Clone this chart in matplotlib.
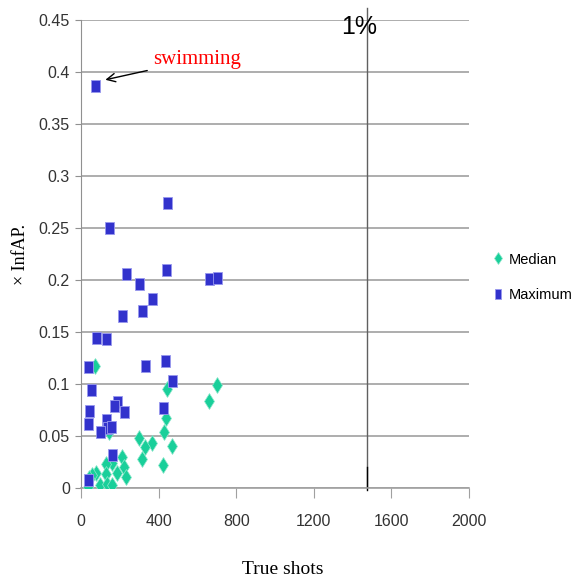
import numpy as np
import matplotlib.pyplot as plt
from matplotlib.path import Path

# Maximum InfAP per event (blue squares)
max_x = [72, 144, 445, 230, 438, 301, 660, 701, 364, 314, 211, 77, 127,
         38, 328, 433, 471, 52, 43, 187, 168, 223, 424, 38, 127, 137, 156,
         100, 161, 38]
max_y = [0.387, 0.250, 0.274, 0.206, 0.210, 0.196, 0.201, 0.202, 0.182,
         0.170, 0.165, 0.144, 0.143, 0.116, 0.117, 0.122, 0.103, 0.094,
         0.074, 0.083, 0.079, 0.073, 0.077, 0.0615, 0.065, 0.058, 0.059,
         0.0535, 0.032, 0.0077]

# Median InfAP per event (green diamonds)
med_x = [72, 445, 700, 660, 438, 430, 146, 301, 364, 328, 471, 314, 424,
         211, 223, 230, 161, 127, 127, 187, 77, 57, 100, 137, 161, 38, 43]
med_y = [0.117, 0.095, 0.099, 0.084, 0.0676, 0.054, 0.0535, 0.048, 0.043,
         0.039, 0.040, 0.028, 0.022, 0.0295, 0.0205, 0.011, 0.0237, 0.023,
         0.0135, 0.0147, 0.0147, 0.0125, 0.003, 0.004, 0.003, 0.0007, 0.010]

x_ticks = [0, 400, 800, 1200, 1600, 2000]
y_ticks = [0, 0.05, 0.1, 0.15, 0.2, 0.25, 0.3, 0.35, 0.4, 0.45]
one_pct = 1473

narrow = ['Liberation Sans Narrow', 'Liberation Sans', 'DejaVu Sans']
serif = ['Liberation Serif', 'DejaVu Serif']

rect = Path([(-0.36, -0.5), (0.36, -0.5), (0.36, 0.5), (-0.36, 0.5), (-0.36, -0.5)],
            [Path.MOVETO, Path.LINETO, Path.LINETO, Path.LINETO, Path.CLOSEPOLY])

fig = plt.figure(figsize=(5.82, 5.82), dpi=100)
ax = fig.add_axes([0.139, 0.1615, 0.667, 0.804])

ax.set_xlim(0, 2000)
ax.set_ylim(0, 0.45)
ax.set_yticks(y_ticks)
ax.set_yticklabels(['0' if v == 0 else f'{v:g}' for v in y_ticks])
ax.set_xticks(x_ticks)
ax.yaxis.grid(True, color='#a0a0a0', linewidth=1.2)
ax.set_axisbelow(True)
for s in ['top', 'right']:
    ax.spines[s].set_visible(False)
ax.spines['left'].set_color('#909090')
ax.spines['bottom'].set_color('#a0a0a0')
ax.spines['bottom'].set_linewidth(1.2)
ax.tick_params(axis='y', length=4, color='#909090', labelsize=11.5, pad=4)
ax.tick_params(axis='x', length=7, color='#a0a0a0', labelsize=11.5, pad=12)
for lab in ax.get_xticklabels() + ax.get_yticklabels():
    lab.set_family(narrow)
    lab.set_color('#333333')

ax.plot([one_pct, one_pct], [0, 0.462], color='#606060', linewidth=1.0,
        clip_on=False, zorder=1)
ax.plot([one_pct, one_pct], [-0.002, 0.02], color='black', linewidth=1.0,
        clip_on=False, zorder=1)
ax.text(one_pct - 40, 0.443, '1%', fontsize=18, family=narrow,
        ha='center', va='center')

ax.plot(med_x, med_y, linestyle='none', marker='d', markersize=8.5,
        color='#19cf9a', markeredgecolor='#8fe8cc', markeredgewidth=0.5,
        label='Median', zorder=3)
ax.plot(max_x, max_y, linestyle='none', marker=rect, markersize=9,
        color='#3232cc', markeredgecolor='#9999ee', markeredgewidth=0.6,
        label='Maximum', zorder=4)

ax.annotate('swimming', xy=(112, 0.392), xytext=(370, 0.412),
            color='red', fontsize=15, family=serif, ha='left', va='center',
            arrowprops=dict(arrowstyle='->', color='black', lw=1.0))

ax.set_xlabel('True shots', fontsize=14, family=serif)
ax.xaxis.set_label_coords(0.52, -0.175)
ax.xaxis.label.set_va('center')
ax.set_ylabel('× InfAP.', fontsize=13, family=serif)
ax.yaxis.set_label_coords(-0.155, 0.5)
ax.yaxis.label.set_va('center')

leg = ax.legend(loc='center left', bbox_to_anchor=(1.06, 0.45), frameon=False,
                prop={'family': narrow, 'size': 10.5}, handletextpad=0.3,
                handlelength=0.8, labelspacing=1.5, markerscale=0.75,
                borderpad=0, borderaxespad=0)

fig.savefig('out.png', dpi=100)
